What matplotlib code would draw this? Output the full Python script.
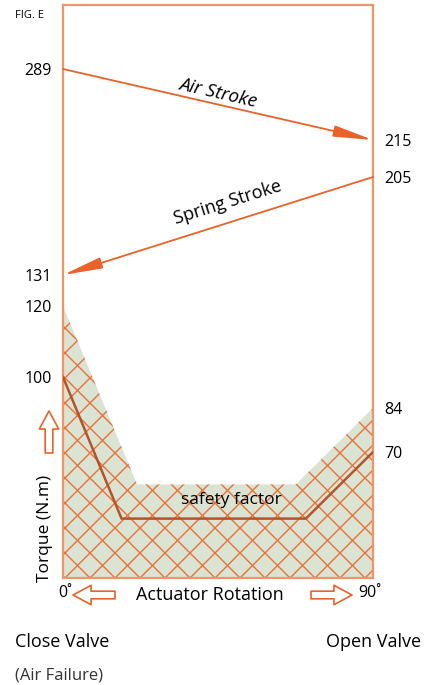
import numpy as np
import matplotlib
matplotlib.use("Agg")
from matplotlib import pyplot as plt
from matplotlib.patches import Polygon
from matplotlib.lines import Line2D

plt.rcParams['font.family'] = ['Open Sans', 'DejaVu Sans']

# schematic (non-linear) torque axis: torque value -> drawn height
scale_torque = [0, 70, 84, 100, 120, 131, 205, 215, 289, 320]
scale_height = [0, 126, 170, 201, 272, 303, 401, 438, 509, 573]

left_ticks = [289, 131, 120, 100]
right_ticks = [215, 205, 84, 70]

air_stroke = ([0, 90], [289, 215])
spring_stroke = ([90, 0], [205, 131])

safety_x = [0, 0, 21.5, 67.6, 90, 90]
safety_y = [0, 120, 52, 52, 84, 0]

torque_x = [0, 17, 70.5, 90]
torque_y = [100, 33, 33, 70]

FRAME = '#ef9566'
ORANGE = '#e8622a'
HATCH = '#e8703a'
GREEN = '#dbe3d3'
BROWN = '#b5532a'


def fwd(v):
    return np.interp(v, scale_torque, scale_height)


def inv(h):
    return np.interp(h, scale_height, scale_torque)


fig = plt.figure(figsize=(4.36, 6.85), dpi=100)
ax = fig.add_axes([63 / 436, 1 - 578 / 685, 310 / 436, 573 / 685])
ax.set_yscale('function', functions=(fwd, inv))
ax.set_xlim(0, 90)
ax.set_ylim(0, 320)
ax.set_xticks([])
ax.set_yticks(left_ticks)
ax.tick_params(axis='y', length=0, pad=8, labelsize=11.5)
for s in ax.spines.values():
    s.set_color(FRAME)
    s.set_linewidth(1.6)

tw = ax.twinx()
tw.set_yscale('function', functions=(fwd, inv))
tw.set_ylim(0, 320)
tw.set_yticks(right_ticks)
tw.tick_params(axis='y', length=0, pad=8, labelsize=11.5)
for s in tw.spines.values():
    s.set_visible(False)

# safety region
poly = Polygon(np.column_stack([safety_x, safety_y]), closed=True,
               facecolor=GREEN, edgecolor='none', zorder=1)
ax.add_patch(poly)

# cross hatch, drawn in pixel space so the diamonds are square
W, H = 310.0, 573.0
step = 25.0
for c in np.arange(-H, W + H, step):
    for sgn in (1, -1):
        xs = np.array([c, c + sgn * H])
        ys = np.array([0, H])
        ln = Line2D(xs / W, ys / H, transform=ax.transAxes, color=HATCH,
                    lw=1.0, zorder=2)
        ln.set_clip_path(poly)
        ax.add_line(ln)

ax.plot(torque_x, torque_y, color=BROWN, lw=1.8, zorder=3)

arrow = dict(arrowstyle='-|>,head_length=2.4,head_width=0.34',
             color=ORANGE, lw=1.3, mutation_scale=10, shrinkA=0, shrinkB=0)
ax.annotate('', xy=(air_stroke[0][1], air_stroke[1][1]),
            xytext=(air_stroke[0][0], air_stroke[1][0]), arrowprops=arrow)
ax.annotate('', xy=(spring_stroke[0][1], spring_stroke[1][1]),
            xytext=(spring_stroke[0][0], spring_stroke[1][0]), arrowprops=arrow)

ax.text(0.5, 0.846, 'Air Stroke', transform=ax.transAxes, rotation=-13,
        ha='center', va='center', fontsize=13.5, style='italic')
ax.text(0.532, 0.655, 'Spring Stroke', transform=ax.transAxes, rotation=17.5,
        ha='center', va='center', fontsize=13)
ax.text(0.542, 0.136, 'safety factor', transform=ax.transAxes,
        ha='center', va='center', fontsize=12.5, zorder=4)

# outside labels
fig.text(15 / 436, 1 - 15 / 685, 'FIG. E', fontsize=8, va='center')
fig.text(45 / 436, 1 - 528 / 685, 'Torque (N.m)', rotation=90,
         ha='center', va='center', fontsize=12.5)
fig.text(210 / 436, 1 - 595 / 685, 'Actuator Rotation', ha='center',
         va='center', fontsize=13)
fig.text(65 / 436, 1 - 593 / 685, '0˚', ha='center', va='center', fontsize=11.5)
fig.text(370 / 436, 1 - 593 / 685, '90˚', ha='center', va='center', fontsize=11.5)
fig.text(15 / 436, 1 - 642 / 685, 'Close Valve', va='center', fontsize=13)
fig.text(421 / 436, 1 - 642 / 685, 'Open Valve', ha='right', va='center',
         fontsize=13)
fig.text(15 / 436, 1 - 675 / 685, '(Air Failure)', va='center', fontsize=12,
         color='#333333')

hollow = dict(arrowstyle='simple,head_length=1.3,head_width=1.4,tail_width=0.55',
              fc='white', ec=ORANGE, lw=1.2, mutation_scale=10,
              shrinkA=0, shrinkB=0)
ax.annotate('', xy=(73, 685 - 595), xytext=(115, 685 - 595),
            xycoords='figure pixels', textcoords='figure pixels',
            arrowprops=hollow, annotation_clip=False)
ax.annotate('', xy=(352, 685 - 595), xytext=(311, 685 - 595),
            xycoords='figure pixels', textcoords='figure pixels',
            arrowprops=hollow, annotation_clip=False)
ax.annotate('', xy=(49, 685 - 411), xytext=(49, 685 - 453),
            xycoords='figure pixels', textcoords='figure pixels',
            arrowprops=hollow, annotation_clip=False)

fig.savefig('out.png', dpi=100)
